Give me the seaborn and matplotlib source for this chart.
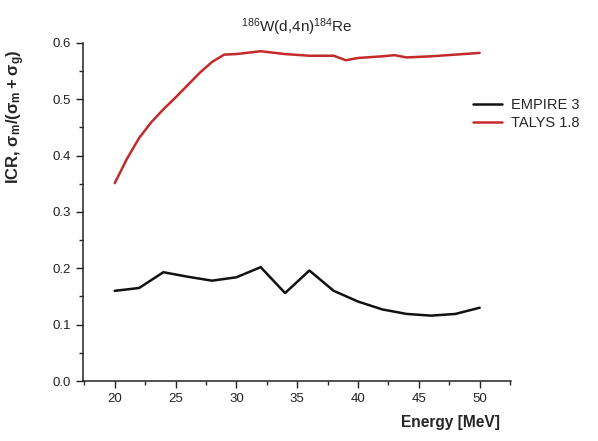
import numpy as np
import pandas as pd
import matplotlib
matplotlib.use("Agg")
import matplotlib.pyplot as plt
import seaborn as sns
from matplotlib.ticker import MultipleLocator

# Data
empire_energy = [20, 22, 24, 26, 28, 30, 32, 34, 36, 38, 40, 42, 44, 46, 48, 50]
empire_icr = [0.160, 0.165, 0.193, 0.185, 0.178, 0.184, 0.202, 0.156, 0.196, 0.160,
              0.141, 0.127, 0.119, 0.116, 0.119, 0.130]
talys_energy = [20, 21, 22, 23, 24, 25, 26, 27, 28, 29, 30, 32, 34, 36, 38, 39, 40, 42, 43, 44, 46, 48, 50]
talys_icr = [0.351, 0.394, 0.431, 0.459, 0.482, 0.503, 0.525, 0.547, 0.566, 0.579, 0.580,
             0.585, 0.580, 0.577, 0.577, 0.569, 0.573, 0.576, 0.578, 0.574, 0.576, 0.579, 0.582]
series_names = ["EMPIRE 3", "TALYS 1.8"]
series_colors = ["#111111", "#c42a2a"]

df = pd.concat([
    pd.DataFrame({"Energy": empire_energy, "ICR": empire_icr, "Model": series_names[0]}),
    pd.DataFrame({"Energy": talys_energy, "ICR": talys_icr, "Model": series_names[1]}),
])

sns.set_style("ticks")
plt.rcParams['font.family'] = ['Liberation Sans', 'DejaVu Sans']
plt.rcParams['mathtext.default'] = 'regular'

fig = plt.figure(figsize=(5.98, 4.41), dpi=100)
ax = fig.add_axes([0.139, 0.136, 0.716, 0.767])

sns.lineplot(data=df, x="Energy", y="ICR", hue="Model", palette=series_colors,
             hue_order=series_names, ax=ax, linewidth=1.8, legend=True)

ax.set_xlim(17.4, 52.6)
ax.set_ylim(0, 0.6)
ax.xaxis.set_major_locator(MultipleLocator(5))
ax.xaxis.set_minor_locator(MultipleLocator(2.5))
ax.yaxis.set_major_locator(MultipleLocator(0.1))
ax.yaxis.set_minor_locator(MultipleLocator(0.05))
ax.yaxis.set_major_formatter(matplotlib.ticker.FormatStrFormatter('%.1f'))
ax.tick_params(axis='both', which='major', length=5, width=1, labelsize=9.5, colors='#222222')
ax.tick_params(axis='both', which='minor', length=3, width=1)
for s in ['left', 'bottom']:
    ax.spines[s].set_linewidth(1.1)
    ax.spines[s].set_color('#222222')
sns.despine(ax=ax)

ax.set_xlabel("Energy [MeV]", fontsize=11.2, fontweight='bold', loc='right')
ax.xaxis.set_label_coords(0.974, -0.10)
ax.set_ylabel("ICR, $\\sigma_m/(\\sigma_m+\\sigma_g)$", fontsize=12, fontweight='bold', loc='top')
ax.yaxis.set_label_coords(-0.131, 0.98)
ax.set_title("$^{186}$W(d,4n)$^{184}$Re", fontsize=11, pad=8)

handles, labels = ax.get_legend_handles_labels()
ax.legend(handles, labels, loc='center left', bbox_to_anchor=(0.88, 0.79), frameon=False,
          fontsize=10.5, handlelength=2.0, handletextpad=0.6, labelspacing=0.3)

fig.savefig("out.png", dpi=100, facecolor='white')
